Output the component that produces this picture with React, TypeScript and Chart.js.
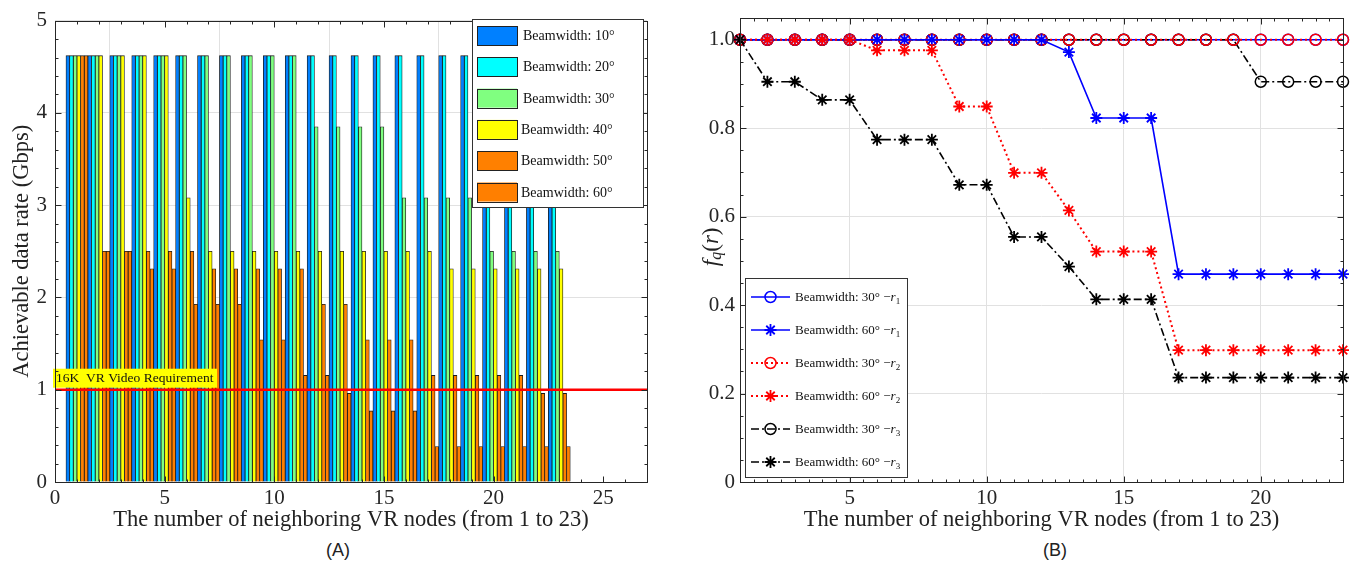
import React, { useEffect, useRef } from 'react';
import { Chart, registerables } from 'chart.js';

Chart.register(...registerables);

const SERIF = "'Liberation Serif', 'Times New Roman', Times, serif";
const SANS = "'Liberation Sans', Arial, Helvetica, sans-serif";

// ---------- Panel A data ----------
const nodes = [1, 2, 3, 4, 5, 6, 7, 8, 9, 10, 11, 12, 13, 14, 15, 16, 17, 18, 19, 20, 21, 22, 23];
const beamLabelsA = ['Beamwidth: 10°', 'Beamwidth: 20°', 'Beamwidth: 30°', 'Beamwidth: 40°', 'Beamwidth: 50°', 'Beamwidth: 60°'];
const beamColorsA = ['#0080ff', '#00ffff', '#80ff80', '#ffff00', '#ff8000', '#ff7f00'];
const rate10 = [4.62, 4.62, 4.62, 4.62, 4.62, 4.62, 4.62, 4.62, 4.62, 4.62, 4.62, 4.62, 4.62, 4.62, 4.62, 4.62, 4.62, 4.62, 4.62, 4.62, 4.62, 4.62, 4.62];
const rate20 = [4.62, 4.62, 4.62, 4.62, 4.62, 4.62, 4.62, 4.62, 4.62, 4.62, 4.62, 4.62, 4.62, 4.62, 4.62, 4.62, 4.62, 4.62, 4.62, 4.62, 4.62, 4.62, 4.62];
const rate30 = [4.62, 4.62, 4.62, 4.62, 4.62, 4.62, 4.62, 4.62, 4.62, 4.62, 4.62, 3.85, 3.85, 3.85, 3.85, 3.08, 3.08, 3.08, 3.08, 2.5, 2.5, 2.5, 2.5];
const rate40 = [4.62, 4.62, 4.62, 4.62, 4.62, 3.08, 2.5, 2.5, 2.5, 2.5, 2.5, 2.5, 2.5, 2.5, 2.5, 2.5, 2.5, 2.31, 2.31, 2.31, 2.31, 2.31, 2.31];
const rate50 = [4.62, 2.5, 2.5, 2.5, 2.5, 2.5, 2.31, 2.31, 2.31, 2.31, 2.31, 1.925, 1.925, 1.54, 1.54, 1.54, 1.155, 1.155, 1.155, 1.155, 1.155, 0.96, 0.96];
const rate60 = [4.62, 2.5, 2.5, 2.31, 2.31, 1.925, 1.925, 1.925, 1.54, 1.54, 1.155, 1.155, 0.96, 0.77, 0.77, 0.77, 0.385, 0.385, 0.385, 0.385, 0.385, 0.385, 0.385];
const ratesA = [rate10, rate20, rate30, rate40, rate50, rate60];
const requirementX = [0, 27];
const requirementY = [1, 1];
const requirementText = '16K  VR Video Requirement';
const xTicksA = [0, 5, 10, 15, 20, 25];
const yTicksA = [0, 1, 2, 3, 4, 5];

// ---------- Panel B data ----------
const r1Bw30 = [1, 1, 1, 1, 1, 1, 1, 1, 1, 1, 1, 1, 1, 1, 1, 1, 1, 1, 1, 1, 1, 1, 1];
const r1Bw60 = [1, 1, 1, 1, 1, 1, 1, 1, 1, 1, 1, 1, 0.972, 0.823, 0.823, 0.823, 0.47, 0.47, 0.47, 0.47, 0.47, 0.47, 0.47];
const r2Bw30 = [1, 1, 1, 1, 1, 1, 1, 1, 1, 1, 1, 1, 1, 1, 1, 1, 1, 1, 1, 1, 1, 1, 1];
const r2Bw60 = [1, 1, 1, 1, 1, 0.976, 0.976, 0.976, 0.849, 0.849, 0.699, 0.699, 0.614, 0.521, 0.521, 0.521, 0.298, 0.298, 0.298, 0.298, 0.298, 0.298, 0.298];
const r3Bw30 = [1, 1, 1, 1, 1, 1, 1, 1, 1, 1, 1, 1, 1, 1, 1, 1, 1, 1, 1, 0.905, 0.905, 0.905, 0.905];
const r3Bw60 = [1, 0.905, 0.905, 0.864, 0.864, 0.774, 0.774, 0.774, 0.672, 0.672, 0.554, 0.554, 0.487, 0.413, 0.413, 0.413, 0.236, 0.236, 0.236, 0.236, 0.236, 0.236, 0.236];
const seriesB = [r1Bw30, r1Bw60, r2Bw30, r2Bw60, r3Bw30, r3Bw60];
const legendAnglesB = ['30°', '60°', '30°', '60°', '30°', '60°'];
const legendRB = ['1', '1', '2', '2', '3', '3'];
const colorsB = ['#0000ff', '#0000ff', '#ff0000', '#ff0000', '#000000', '#000000'];
const markersB = ['circle', 'star', 'circle', 'star', 'circle', 'star'];
const dashesB = [[], [], [2, 3], [2, 3], [8, 3, 2, 3], [8, 3, 2, 3]];
const drawOrderB = [5, 2, 3, 1, 4, 0];
const xTicksB = [5, 10, 15, 20];
const yTicksB = [0, 0.2, 0.4, 0.6, 0.8, 1.0];
const yTickLabelsB = ['0', '0.2', '0.4', '0.6', '0.8', '1.0'];

const AXIS_COLOR = '#262626';
const GRID_COLOR = '#e1e1e1';

function drawBoxAndTicks(chart: any, xMajor: number[], xMinorStep: number, yMajor: number[], yMinorStep: number) {
  const { ctx, chartArea: a, scales } = chart;
  const xs = scales.x;
  const ys = scales.y;
  ctx.save();
  ctx.strokeStyle = AXIS_COLOR;
  ctx.lineWidth = 1;
  ctx.setLineDash([]);
  const L = Math.round(a.left) + 0.5, R = Math.round(a.right) + 0.5;
  const T = Math.round(a.top) + 0.5, B = Math.round(a.bottom) + 0.5;
  ctx.strokeRect(L, T, R - L, B - T);
  ctx.beginPath();
  const tx = (v: number, len: number) => {
    const p = Math.round(xs.getPixelForValue(v)) + 0.5;
    ctx.moveTo(p, B); ctx.lineTo(p, B - len);
    ctx.moveTo(p, T); ctx.lineTo(p, T + len);
  };
  const ty = (v: number, len: number) => {
    const p = Math.round(ys.getPixelForValue(v)) + 0.5;
    ctx.moveTo(L, p); ctx.lineTo(L + len, p);
    ctx.moveTo(R, p); ctx.lineTo(R - len, p);
  };
  for (let v = xs.min; v <= xs.max + 1e-9; v += xMinorStep) tx(v, 3);
  xMajor.forEach((v) => tx(v, 6));
  for (let v = ys.min; v <= ys.max + 1e-9; v += yMinorStep) ty(v, 3);
  yMajor.forEach((v) => ty(v, 6));
  ctx.stroke();
  ctx.restore();
}

const decoA = {
  id: 'decoA',
  afterDatasetsDraw(chart: any) {
    const { ctx, chartArea: a, scales } = chart;
    // requirement label
    const yReq = scales.y.getPixelForValue(requirementY[0]);
    ctx.save();
    ctx.fillStyle = '#ffff00';
    ctx.fillRect(53, yReq - 21, 164, 19);
    ctx.fillStyle = '#111';
    ctx.font = `13.5px ${SERIF}`;
    ctx.textBaseline = 'middle';
    ctx.textAlign = 'left';
    ctx.fillText(requirementText, 56, yReq - 11);
    ctx.restore();

    drawBoxAndTicks(chart, xTicksA, 1, yTicksA, 0.2);

    // legend
    ctx.save();
    ctx.fillStyle = '#fff';
    ctx.fillRect(472, 19, 171, 188);
    ctx.strokeStyle = '#333';
    ctx.lineWidth = 1;
    ctx.strokeRect(472.5, 19.5, 171, 188);
    ctx.font = `14px ${SERIF}`;
    ctx.textBaseline = 'middle';
    ctx.textAlign = 'left';
    beamLabelsA.forEach((lab, i) => {
      const sy = 26 + i * 31.3;
      ctx.fillStyle = beamColorsA[i];
      ctx.fillRect(477, sy, 40, 19);
      ctx.strokeStyle = '#222';
      ctx.strokeRect(477.5, Math.round(sy) + 0.5, 40, 19);
      ctx.fillStyle = '#111';
      ctx.fillText(lab, i >= 3 ? 521 : 523, sy + 10.5);
    });
    ctx.restore();

    // axis titles
    ctx.save();
    ctx.fillStyle = '#222';
    ctx.font = `22.5px ${SERIF}`;
    ctx.textAlign = 'center';
    ctx.textBaseline = 'middle';
    ctx.fillText('The number of neighboring VR nodes (from 1 to 23)', (a.left + a.right) / 2, 520);
    ctx.translate(22, (a.top + a.bottom) / 2);
    ctx.rotate(-Math.PI / 2);
    ctx.fillText('Achievable data rate (Gbps)', 0, 0);
    ctx.restore();
  },
};

function drawMarker(ctx: any, style: string, x: number, y: number, r: number, color: string) {
  ctx.save();
  ctx.setLineDash([]);
  ctx.strokeStyle = color;
  ctx.beginPath();
  if (style === 'circle') {
    ctx.lineWidth = 1.5;
    ctx.arc(x, y, r, 0, Math.PI * 2);
  } else {
    ctx.lineWidth = 1.8;
    for (let k = 0; k < 4; k++) {
      const ang = (k * Math.PI) / 4;
      ctx.moveTo(x - Math.cos(ang) * r, y - Math.sin(ang) * r);
      ctx.lineTo(x + Math.cos(ang) * r, y + Math.sin(ang) * r);
    }
  }
  ctx.stroke();
  ctx.restore();
}

const decoB = {
  id: 'decoB',
  afterDraw(chart: any) {
    const { ctx, chartArea: a } = chart;
    drawBoxAndTicks(chart, xTicksB, 0.5, yTicksB, 0.05);

    // legend
    ctx.save();
    ctx.fillStyle = '#fff';
    ctx.fillRect(69, 278, 162, 199);
    ctx.strokeStyle = '#333';
    ctx.lineWidth = 1;
    ctx.strokeRect(69.5, 278.5, 162, 199);
    ctx.textBaseline = 'middle';
    ctx.textAlign = 'left';
    legendAnglesB.forEach((ang, i) => {
      const cy = 297 + i * 33;
      ctx.save();
      ctx.strokeStyle = colorsB[i];
      ctx.lineWidth = i >= 2 && i < 4 ? 2 : 1.6;
      ctx.setLineDash(dashesB[i]);
      ctx.beginPath();
      ctx.moveTo(75, cy);
      ctx.lineTo(114, cy);
      ctx.stroke();
      ctx.restore();
      drawMarker(ctx, markersB[i], 94.5, cy, markersB[i] === 'circle' ? 5.5 : 6, colorsB[i]);
      ctx.fillStyle = '#111';
      ctx.font = `13px ${SERIF}`;
      const base = `Beamwidth: ${ang} \u2212`;
      let x = 119;
      ctx.fillText(base, x, cy + 1);
      x += ctx.measureText(base).width;
      ctx.font = `italic 13px ${SERIF}`;
      ctx.fillText('r', x, cy + 1);
      x += ctx.measureText('r').width;
      ctx.font = `9px ${SERIF}`;
      ctx.fillText(legendRB[i], x, cy + 5);
    });
    ctx.restore();

    // axis titles
    ctx.save();
    ctx.fillStyle = '#222';
    ctx.font = `22.5px ${SERIF}`;
    ctx.textAlign = 'center';
    ctx.textBaseline = 'middle';
    ctx.fillText('The number of neighboring VR nodes (from 1 to 23)', (a.left + a.right) / 2, 520);
    ctx.restore();

    ctx.save();
    ctx.fillStyle = '#222';
    ctx.textBaseline = 'middle';
    ctx.textAlign = 'left';
    ctx.translate(36, (a.top + a.bottom) / 2 - 3);
    ctx.rotate(-Math.PI / 2);
    const parts: [string, string, number][] = [
      ['f', `italic 23px ${SERIF}`, 0],
      ['q', `italic 16px ${SERIF}`, 5],
      ['(', `23px ${SERIF}`, 0],
      ['r', `italic 23px ${SERIF}`, 0],
      [')', `23px ${SERIF}`, 0],
    ];
    let total = 0;
    parts.forEach(([t, f]) => { ctx.font = f; total += ctx.measureText(t).width; });
    let x = -total / 2;
    parts.forEach(([t, f, dy]) => {
      ctx.font = f;
      ctx.fillText(t, x, dy);
      x += ctx.measureText(t).width;
    });
    ctx.restore();
  },
};

function buildConfigA(): any {
  const bars = ratesA.map((vals, i) => ({
    type: 'bar',
    label: beamLabelsA[i],
    data: nodes.map((n, k) => ({ x: n, y: vals[k] })),
    backgroundColor: beamColorsA[i],
    borderColor: '#1a1a1a',
    borderWidth: 0.8,
    categoryPercentage: 1,
    barPercentage: 1,
    order: 1,
  }));
  const req = {
    type: 'line',
    label: 'req',
    data: requirementX.map((x, k) => ({ x, y: requirementY[k] })),
    borderColor: '#ff0000',
    borderWidth: 2.5,
    pointRadius: 0,
    order: 0,
  };
  const tickFont = { family: SERIF, size: 21 };
  return {
    type: 'bar',
    data: { datasets: [...bars, req] },
    options: {
      responsive: false,
      animation: false,
      devicePixelRatio: 1,
      layout: { padding: { left: 0, right: 29, top: 14, bottom: 0 } },
      plugins: { legend: { display: false }, tooltip: { enabled: false } },
      scales: {
        x: {
          type: 'linear',
          min: 0,
          max: 27,
          offset: false,
          grid: { color: GRID_COLOR, drawTicks: false },
          border: { display: false },
          ticks: { font: tickFont, color: AXIS_COLOR, padding: 4, maxRotation: 0 },
          afterBuildTicks: (s: any) => { s.ticks = xTicksA.map((v) => ({ value: v })); },
          afterFit: (s: any) => { s.height = 58; },
        },
        y: {
          type: 'linear',
          min: 0,
          max: 5,
          grid: { color: GRID_COLOR, drawTicks: false },
          border: { display: false },
          ticks: { font: tickFont, color: AXIS_COLOR, padding: 8 },
          afterBuildTicks: (s: any) => { s.ticks = yTicksA.map((v) => ({ value: v })); },
          afterFit: (s: any) => { s.width = 55; },
        },
      },
    },
    plugins: [decoA],
  };
}

function buildConfigB(): any {
  const datasets = seriesB.map((vals, i) => ({
    type: 'line',
    label: `Beamwidth: ${legendAnglesB[i]} -r${legendRB[i]}`,
    data: nodes.map((n, k) => ({ x: n, y: vals[k] })),
    borderColor: colorsB[i],
    borderWidth: i === 2 || i === 3 ? 2 : 1.6,
    borderDash: dashesB[i],
    pointStyle: markersB[i],
    pointRadius: markersB[i] === 'circle' ? 5.5 : 6,
    pointBorderWidth: markersB[i] === 'circle' ? 1.5 : 1.8,
    pointBorderColor: colorsB[i],
    pointBackgroundColor: 'rgba(0,0,0,0)',
    tension: 0,
    clip: false,
    order: drawOrderB[i],
  }));
  const tickFont = { family: SERIF, size: 21 };
  return {
    type: 'line',
    data: { datasets },
    options: {
      responsive: false,
      animation: false,
      devicePixelRatio: 1,
      layout: { padding: { left: 0, right: 9, top: 14, bottom: 0 } },
      plugins: { legend: { display: false }, tooltip: { enabled: false } },
      scales: {
        x: {
          type: 'linear',
          min: 1,
          max: 23,
          grid: { color: GRID_COLOR, drawTicks: false },
          border: { display: false },
          ticks: { font: tickFont, color: AXIS_COLOR, padding: 4, maxRotation: 0 },
          afterBuildTicks: (s: any) => { s.ticks = xTicksB.map((v) => ({ value: v })); },
          afterFit: (s: any) => { s.height = 58; },
        },
        y: {
          type: 'linear',
          min: 0,
          max: 1.05,
          grid: { color: GRID_COLOR, drawTicks: false },
          border: { display: false },
          ticks: {
            font: tickFont,
            color: AXIS_COLOR,
            padding: 5,
            callback: (v: number) => {
              const idx = yTicksB.findIndex((t) => Math.abs(t - v) < 1e-9);
              return idx >= 0 ? yTickLabelsB[idx] : '';
            },
          },
          afterBuildTicks: (s: any) => { s.ticks = yTicksB.map((v) => ({ value: v })); },
          afterFit: (s: any) => { s.width = 64; },
        },
      },
    },
    plugins: [decoB],
  };
}

export default function App() {
  const refA = useRef<HTMLCanvasElement>(null);
  const refB = useRef<HTMLCanvasElement>(null);
  useEffect(() => {
    const a = new Chart(refA.current as HTMLCanvasElement, buildConfigA());
    const b = new Chart(refB.current as HTMLCanvasElement, buildConfigB());
    return () => {
      a.destroy();
      b.destroy();
    };
  }, []);
  const cap: React.CSSProperties = {
    position: 'absolute',
    top: 540,
    height: 24,
    lineHeight: '24px',
    width: 200,
    textAlign: 'center',
    font: `18px ${SANS}`,
    color: '#222',
  };
  return (
    <div style={{ position: 'absolute', left: 0, top: 0, width: 1352, height: 571, background: '#fff', overflow: 'hidden' }}>
      <canvas ref={refA} width={676} height={540} style={{ position: 'absolute', left: 0, top: 0, width: 676, height: 540 }} />
      <canvas ref={refB} width={676} height={540} style={{ position: 'absolute', left: 676, top: 0, width: 676, height: 540 }} />
      <div style={{ ...cap, left: 238 }}>(A)</div>
      <div style={{ ...cap, left: 955 }}>(B)</div>
    </div>
  );
}
